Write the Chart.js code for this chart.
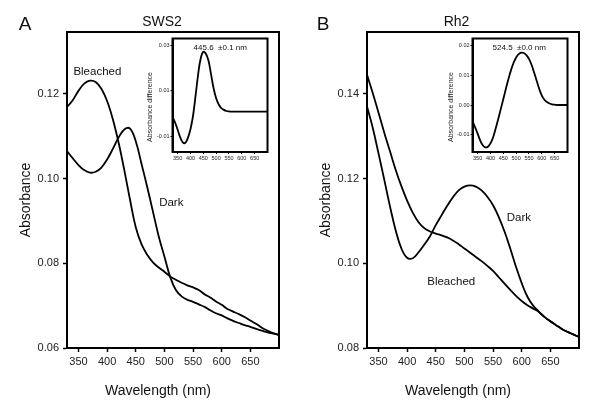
<!DOCTYPE html>
<html>
<head>
<meta charset="utf-8">
<script src="https://cdn.jsdelivr.net/npm/chart.js@4.4.1/dist/chart.umd.min.js"></script>
<style>
  html, body { margin: 0; padding: 0; background: #fff; }
  #wrap { position: relative; width: 600px; height: 401px; overflow: hidden; background: #fff; }
  canvas { position: absolute; }
</style>
</head>
<body>
<div id="wrap">
  <canvas id="mainA" width="300" height="401" style="left:0;top:0"></canvas>
  <canvas id="mainB" width="300" height="401" style="left:300px;top:0"></canvas>
  <canvas id="insetA" width="140" height="145" style="left:135px;top:28px"></canvas>
  <canvas id="insetB" width="140" height="145" style="left:435px;top:28px"></canvas>
</div>
<script>
// ---------- data ----------
const wavelengths = [330,340,350,360,370,380,390,400,410,420,430,440,450,460,470,480,490,500,510,520,530,540,550,560,570,580,590,600,610,620,630,640,650,660,670,680,690,700];

const sws2Bleached = [0.1169,0.1185,0.1207,0.1224,0.1231,0.1228,0.1212,0.1183,0.1140,0.1085,0.1020,0.0950,0.0885,0.0845,0.0820,0.0802,0.0790,0.0780,0.0769,0.0761,0.0754,0.0748,0.0743,0.0737,0.0727,0.0719,0.0710,0.0702,0.0692,0.0686,0.0680,0.0673,0.0665,0.0657,0.0648,0.0641,0.0635,0.0631];
const sws2Dark = [0.1065,0.1048,0.1032,0.1020,0.1014,0.1016,0.1026,0.1045,0.1070,0.1097,0.1116,0.1118,0.1088,0.1035,0.0980,0.0922,0.0864,0.0816,0.0768,0.0737,0.0722,0.0714,0.0709,0.0703,0.0697,0.0689,0.0682,0.0677,0.0670,0.0664,0.0659,0.0654,0.0650,0.0645,0.0641,0.0637,0.0634,0.0631];
const sws2Diff = [-0.0014,-0.0040,-0.0072,-0.0106,-0.0128,-0.0130,-0.0108,-0.0070,-0.0010,0.0080,0.0175,0.0245,0.0274,0.0265,0.0235,0.0175,0.0112,0.0068,0.0040,0.0024,0.0016,0.0011,0.0009,0.0008,0.0008,0.0008,0.0008,0.0008,0.0008,0.0008,0.0008,0.0008,0.0008,0.0008,0.0008,0.0008,0.0008,0.0008];

const rh2Dark = [0.1370,0.1320,0.1260,0.1198,0.1135,0.1078,0.1035,0.1013,0.1012,0.1026,0.1044,0.1064,0.1090,0.1113,0.1136,0.1156,0.1172,0.1181,0.1184,0.1181,0.1172,0.1157,0.1137,0.1109,0.1075,0.1035,0.0992,0.0953,0.0921,0.0900,0.0886,0.0873,0.0863,0.0854,0.0845,0.0838,0.0832,0.0826];
const rh2Bleached = [0.1445,0.1402,0.1356,0.1309,0.1265,0.1221,0.1182,0.1148,0.1119,0.1097,0.1083,0.1075,0.1070,0.1066,0.1061,0.1054,0.1045,0.1035,0.1025,0.1015,0.1005,0.0994,0.0982,0.0967,0.0952,0.0937,0.0923,0.0911,0.0901,0.0893,0.0885,0.0873,0.0863,0.0854,0.0845,0.0838,0.0832,0.0826];
const rh2Diff = [-0.0054,-0.0075,-0.0097,-0.0120,-0.0136,-0.0143,-0.0141,-0.0130,-0.0110,-0.0080,-0.0048,-0.0014,0.0020,0.0055,0.0088,0.0118,0.0143,0.0161,0.0172,0.0177,0.0176,0.0169,0.0156,0.0136,0.0110,0.0082,0.0054,0.0032,0.0018,0.0010,0.0005,0.0002,0.0001,0.0000,0.0000,0.0000,0.0000,0.0000];

const xTicks = [350,400,450,500,550,600,650];
const sws2YTicks = [0.06,0.08,0.10,0.12];
const rh2YTicks = [0.08,0.10,0.12,0.14];
const sws2DiffTicks = [-0.01,0.01,0.03];
const rh2DiffTicks = [-0.01,0.00,0.01,0.02];

const sws2Lambda = '445.6  \u00b10.1 nm';
const rh2Lambda = '524.5  \u00b10.0 nm';

// ---------- rendering ----------
const FONT = "'Liberation Sans', Arial, Helvetica, sans-serif";

function series(ys) { return wavelengths.map((x, i) => ({ x: x, y: ys[i] })); }

function makeChart(id, o) {
  const texts = o.texts || [];
  const frame = {
    id: 'frame_' + id,
    beforeDraw(chart) {
      if (o.fill) {
        const a = chart.chartArea, c = chart.ctx;
        c.save(); c.fillStyle = o.fill; c.fillRect(a.left, a.top, a.right - a.left, a.bottom - a.top); c.restore();
      }
    },
    afterDraw(chart) {
      const a = chart.chartArea, c = chart.ctx;
      c.save();
      c.strokeStyle = '#000';
      c.lineWidth = o.frameWidth;
      c.strokeRect(a.left, a.top, a.right - a.left, a.bottom - a.top);
      // free text
      texts.forEach(it => {
        let x = it.px, y = it.py;
        if (it.at) {
          x = chart.scales.x.getPixelForValue(it.at[0]);
          y = chart.scales.y.getPixelForValue(it.at[1]);
        }
        c.save();
        c.translate(x, y);
        if (it.rot) c.rotate(it.rot);
        c.font = it.size + 'px ' + FONT;
        c.fillStyle = it.color || '#111';
        c.textAlign = 'center';
        c.textBaseline = 'middle';
        c.fillText(it.text, 0, 0);
        c.restore();
      });
      c.restore();
    }
  };
  return new Chart(document.getElementById(id), {
    type: 'line',
    data: {
      datasets: o.series.map(s => ({
        data: series(s),
        borderColor: '#000',
        borderWidth: o.lineWidth,
        pointRadius: 0,
        fill: false,
        tension: 0.4
      }))
    },
    options: {
      responsive: false,
      animation: false,
      devicePixelRatio: 1,
      layout: { padding: o.padding },
      plugins: { legend: { display: false }, tooltip: { enabled: false } },
      scales: {
        x: {
          type: 'linear',
          min: o.xMin, max: o.xMax,
          afterBuildTicks: s => { s.ticks = o.xTicks.map(v => ({ value: v })); },
          afterFit: s => { s.height = o.xAxisHeight; },
          grid: { display: true, drawOnChartArea: false, drawTicks: true, tickLength: o.tickLength, tickColor: '#000', tickWidth: o.tickWidth },
          border: { display: true, color: '#000', width: o.frameWidth },
          ticks: { autoSkip: false, maxRotation: 0, padding: o.xTickPad, color: '#222', font: { family: FONT, size: o.tickFont }, callback: v => String(v) }
        },
        y: {
          type: 'linear',
          min: o.yMin, max: o.yMax,
          afterBuildTicks: s => { s.ticks = o.yTicks.map(v => ({ value: v })); },
          afterFit: s => { s.width = o.yAxisWidth; },
          grid: { display: true, drawOnChartArea: false, drawTicks: true, tickLength: o.tickLength, tickColor: '#000', tickWidth: o.tickWidth },
          border: { display: true, color: '#000', width: o.frameWidth },
          ticks: { autoSkip: false, padding: o.yTickPad, color: '#222', font: { family: FONT, size: o.tickFont }, callback: v => Number(v).toFixed(2) }
        }
      }
    },
    plugins: [frame]
  });
}

const mainCommon = {
  xMin: 330, xMax: 700, xTicks: xTicks,
  padding: { left: 0, top: 32, right: 21, bottom: 23 },
  yAxisWidth: 67, xAxisHeight: 30,
  tickLength: 4, tickWidth: 1.5, frameWidth: 2, lineWidth: 1.8,
  tickFont: 11, xTickPad: 3, yTickPad: 4
};

makeChart('mainA', Object.assign({}, mainCommon, {
  series: [sws2Bleached, sws2Dark],
  yMin: 0.06, yMax: 0.1346, yTicks: sws2YTicks,
  texts: [
    { text: 'A', px: 25, py: 25, size: 19 },
    { text: 'SWS2', px: 162, py: 22, size: 14 },
    { text: 'Absorbance', px: 26, py: 200, size: 14, rot: -Math.PI / 2 },
    { text: 'Wavelength (nm)', px: 158, py: 391, size: 14 },
    { text: 'Bleached', at: [383, 0.1253], size: 11.5 },
    { text: 'Dark', at: [512, 0.0943], size: 11.5 }
  ]
}));

makeChart('mainB', Object.assign({}, mainCommon, {
  series: [rh2Bleached, rh2Dark],
  yMin: 0.08, yMax: 0.1546, yTicks: rh2YTicks,
  texts: [
    { text: 'B', px: 23, py: 25, size: 19 },
    { text: 'Rh2', px: 156.5, py: 22, size: 14 },
    { text: 'Absorbance', px: 26, py: 200, size: 14, rot: -Math.PI / 2 },
    { text: 'Wavelength (nm)', px: 158, py: 391, size: 14 },
    { text: 'Dark', at: [595, 0.1108], size: 11.5 },
    { text: 'Bleached', at: [477, 0.0956], size: 11.5 }
  ]
}));

const insetCommon = {
  xMin: 330, xMax: 700, xTicks: xTicks,
  padding: { left: 0, top: 10.5, right: 7.5, bottom: 9 },
  yAxisWidth: 37.5, xAxisHeight: 12,
  tickLength: 2, tickWidth: 1, frameWidth: 2, lineWidth: 1.8,
  tickFont: 5.5, xTickPad: 1, yTickPad: 1, fill: '#fff'
};

makeChart('insetA', Object.assign({}, insetCommon, {
  series: [sws2Diff],
  yMin: -0.0171, yMax: 0.0333, yTicks: sws2DiffTicks,
  texts: [
    { text: 'Absorbance difference', px: 15, py: 79, size: 7, rot: -Math.PI / 2, color: '#222' },
    { text: sws2Lambda, at: [516, 0.0293], size: 8 }
  ]
}));

makeChart('insetB', Object.assign({}, insetCommon, {
  series: [rh2Diff],
  yMin: -0.0159, yMax: 0.0225, yTicks: rh2DiffTicks,
  texts: [
    { text: 'Absorbance difference', px: 15.7, py: 79, size: 7, rot: -Math.PI / 2, color: '#222' },
    { text: rh2Lambda, at: [512, 0.0194], size: 8 }
  ]
}));
</script>
</body>
</html>
